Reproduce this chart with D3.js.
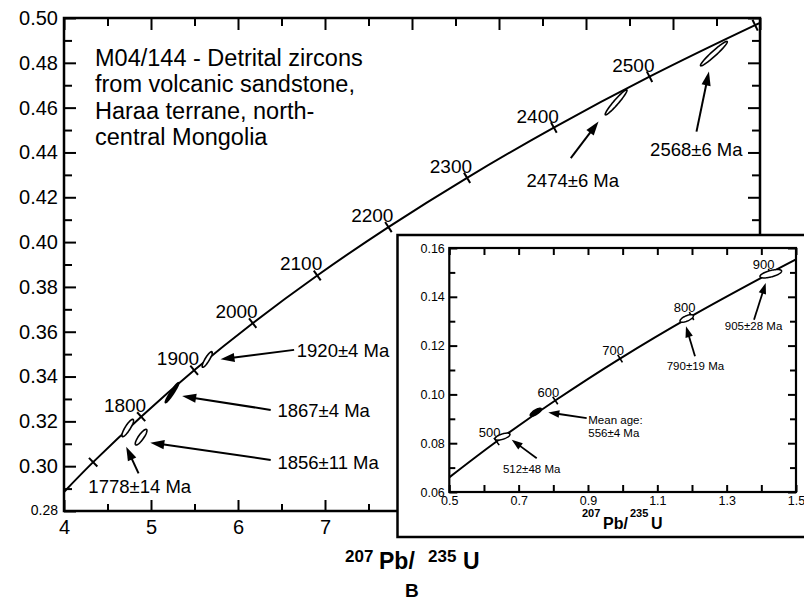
<!DOCTYPE html>
<html>
<head>
<meta charset="utf-8">
<script src="https://cdn.jsdelivr.net/npm/d3@7"></script>
<style>
  html, body { margin: 0; padding: 0; background: #fff; }
  svg { display: block; font-family: "Liberation Sans", Arial, Helvetica, sans-serif; }
</style>
</head>
<body>
<svg id="chart" width="804" height="600"></svg>
<script>
// ---------- Main diagram: concordia, 207Pb/235U (x) vs 206Pb/238U (y) ----------
const concordAges = [1634, 1700, 1800, 1900, 2000, 2100, 2200, 2300, 2400, 2500, 2600, 2604];
const concordX    = [4.000, 4.335, 4.887, 5.496, 6.169, 6.911, 7.729, 8.633, 9.630, 10.730, 11.944, 12.000];
const concordY    = [0.2885, 0.3018, 0.3221, 0.3428, 0.3638, 0.3851, 0.4067, 0.4287, 0.4511, 0.4738, 0.4968, 0.4978];
const concordTickAges  = [1700, 1800, 1900, 2000, 2100, 2200, 2300, 2400, 2500, 2600];
const concordLabelAges = [1800, 1900, 2000, 2100, 2200, 2300, 2400, 2500];

// Analyses (error ellipses): centre, half-extent in x and y, error correlation
const grainLabels = ["2568±6 Ma", "2474±6 Ma", "1920±4 Ma", "1867±4 Ma", "1856±11 Ma", "1778±14 Ma"];
const grainX   = [11.470, 10.346, 5.646, 5.242, 4.886, 4.732];
const grainY   = [0.4841, 0.46237, 0.34763, 0.33281, 0.31295, 0.31705];
const grainSX  = [0.154, 0.125, 0.0577, 0.0773, 0.0669, 0.0669];
const grainSY  = [0.00545, 0.00558, 0.00348, 0.00446, 0.00348, 0.00388];
const grainRho = [0.962, 0.958, 0.87, 0.955, 0.84, 0.86];
const grainFilled = [false, false, false, true, false, false];

// Axis ticks
const xMajorTop    = [4, 5, 6, 7, 8, 9, 10, 11, 12];
const xMinorTop    = [4.5, 5.5, 6.5, 7.5, 8.5, 9.5, 10.5, 11.5];
const xMajorBottom = [4, 5, 6, 7];
const xMinorBottom = [4.5, 5.5, 6.5, 7.5];
const yMajor = [0.28, 0.30, 0.32, 0.34, 0.36, 0.38, 0.40, 0.42, 0.44, 0.46, 0.48, 0.50];
const yMinor = [0.29, 0.31, 0.33, 0.35, 0.37, 0.39, 0.41, 0.43, 0.45, 0.47, 0.49];

// ---------- Inset: younger grains ----------
const insetAges = [412, 500, 600, 700, 800, 900, 930];
const insetX    = [0.500, 0.6363, 0.8056, 0.9925, 1.1987, 1.4263, 1.500];
const insetY    = [0.0660, 0.0807, 0.0975, 0.1147, 0.1321, 0.1498, 0.1553];
const insetTickAges = [500, 600, 700, 800, 900];

const insetGrainX   = [1.4273, 1.1847, 0.7495, 0.6534];
const insetGrainY   = [0.14945, 0.13113, 0.0927, 0.0827];
const insetGrainSX  = [0.0312, 0.0193, 0.0160, 0.0216];
const insetGrainSY  = [0.00172, 0.00156, 0.00160, 0.00144];
const insetGrainRho = [0.62, 0.66, 0.75, 0.62];
const insetGrainFilled = [false, false, true, false];

const insetXMajor = [0.5, 0.7, 0.9, 1.1, 1.3, 1.5];
const insetXMinor = [0.6, 0.8, 1.0, 1.2, 1.4];
const insetYMajor = [0.06, 0.08, 0.10, 0.12, 0.14, 0.16];
const insetYMinor = [0.07, 0.09, 0.11, 0.13, 0.15];

const titleLines = ["M04/144 - Detrital zircons", "from volcanic sandstone,", "Haraa terrane, north-", "central Mongolia"];

// ---------- annotation layout (data coordinates) ----------
const mainNotes = [
  { i: 0, lx: 10.737, ly: 0.4382, tail: [11.270, 0.4493], tip: [11.413, 0.4761] },
  { i: 1, lx: 9.317,  ly: 0.4248, tail: [9.825, 0.4375],  tip: [10.144, 0.4538] },
  { i: 2, lx: 6.676,  ly: 0.3489, tail: [6.645, 0.3519],  tip: [5.799, 0.3477] },
  { i: 3, lx: 6.453,  ly: 0.3221, tail: [6.376, 0.3251],  tip: [5.358, 0.3313] },
  { i: 4, lx: 6.453,  ly: 0.2988, tail: [6.376, 0.3028],  tip: [4.992, 0.3105] },
  { i: 5, lx: 4.280,  ly: 0.2880, tail: [4.857, 0.2968],  tip: [4.715, 0.3087] }
];
const insetNotes = [
  { lines: ["905±28 Ma"], lx: 1.2947, ly: 0.1265, tail: [1.3789, 0.1306], tip: [1.4126, 0.1457] },
  { lines: ["790±19 Ma"], lx: 1.1271, ly: 0.1101, tail: [1.2087, 0.1156], tip: [1.1827, 0.1279] },
  { lines: ["Mean age:", "556±4 Ma"], lx: 0.9009, ly: 0.0878, tail: [0.8963, 0.0903], tip: [0.7856, 0.0926] },
  { lines: ["512±48 Ma"], lx: 0.6546, ly: 0.0678, tail: [0.7521, 0.0738], tip: [0.6800, 0.0814] }
];

const FONT = '"Liberation Sans", Arial, Helvetica, sans-serif';
const svg = d3.select("#chart");
const defs = svg.append("defs");

// ---------- helpers ----------
function ellipsePath(cx, cy, ex, ey, rho, sx, sy) {
  const k = Math.sqrt(1 - rho * rho);
  const pts = d3.range(0, 96).map(j => {
    const t = j / 96 * 2 * Math.PI;
    return [sx(cx + ex * Math.cos(t)), sy(cy + ey * (rho * Math.cos(t) + k * Math.sin(t)))];
  });
  return d3.line().curve(d3.curveLinearClosed)(pts);
}

function drawArrow(g, p0, p1, len, hw, sw) {
  const dx = p1[0] - p0[0], dy = p1[1] - p0[1];
  const L = Math.hypot(dx, dy);
  const ux = dx / L, uy = dy / L, nx = -uy, ny = ux;
  const bx = p1[0] - ux * len, by = p1[1] - uy * len;
  g.append("line")
    .attr("x1", p0[0]).attr("y1", p0[1])
    .attr("x2", bx + ux * 2).attr("y2", by + uy * 2)
    .attr("stroke", "#000").attr("stroke-width", sw);
  g.append("path")
    .attr("d", `M${p1[0]},${p1[1]}L${bx + nx * hw},${by + ny * hw}L${bx - nx * hw},${by - ny * hw}Z`)
    .attr("fill", "#000");
}

function styleAxis(sel, fontSize, sw) {
  sel.select(".domain").remove();
  sel.attr("font-family", FONT).attr("font-size", fontSize);
  sel.selectAll(".tick line").attr("stroke-width", sw);
  sel.selectAll(".tick text").attr("fill", "#000");
}

function concordTicks(g, xs, ys, ages, tickAges, sx, sy, half, sw) {
  tickAges.forEach(a => {
    const i = ages.indexOf(a);
    const p = [sx(xs[i]), sy(ys[i])];
    const pa = [sx(xs[i - 1]), sy(ys[i - 1])];
    const pb = [sx(xs[i + 1]), sy(ys[i + 1])];
    const tx = pb[0] - pa[0], ty = pb[1] - pa[1];
    const L = Math.hypot(tx, ty);
    const nx = -ty / L, ny = tx / L;
    g.append("line")
      .attr("x1", p[0] - nx * half).attr("y1", p[1] - ny * half)
      .attr("x2", p[0] + nx * half).attr("y2", p[1] + ny * half)
      .attr("stroke", "#000").attr("stroke-width", sw);
  });
}

// ================= MAIN PLOT =================
const x = d3.scaleLinear().domain([4, 12]).range([64, 760]);
const y = d3.scaleLinear().domain([0.28, 0.50]).range([511, 18]);
const gMain = svg.append("g");

defs.append("clipPath").attr("id", "clipMain")
  .append("rect").attr("x", 64).attr("y", 18).attr("width", 696).attr("height", 493);

// axes with inward ticks
const fmt2 = d3.format(".2f");
const gl = gMain.append("g").attr("transform", "translate(64,0)")
  .call(d3.axisLeft(y).tickValues(yMajor).tickSize(-12).tickPadding(6).tickFormat(fmt2));
styleAxis(gl, 20, 2);
gl.selectAll(".tick text").filter(d => d === 0.28).attr("font-size", 14).attr("dy", "0.25em");
const glm = gMain.append("g").attr("transform", "translate(64,0)")
  .call(d3.axisLeft(y).tickValues(yMinor).tickSize(-8).tickFormat(""));
styleAxis(glm, 10, 2);

const gr = gMain.append("g").attr("transform", "translate(760,0)")
  .call(d3.axisRight(y).tickValues(yMajor).tickSize(-12).tickFormat(""));
styleAxis(gr, 10, 2);
const grm = gMain.append("g").attr("transform", "translate(760,0)")
  .call(d3.axisRight(y).tickValues(yMinor).tickSize(-8).tickFormat(""));
styleAxis(grm, 10, 2);

const gt = gMain.append("g").attr("transform", "translate(0,18)")
  .call(d3.axisTop(x).tickValues(xMajorTop).tickSize(-12).tickFormat(""));
styleAxis(gt, 10, 2);
const gtm = gMain.append("g").attr("transform", "translate(0,18)")
  .call(d3.axisTop(x).tickValues(xMinorTop).tickSize(-8).tickFormat(""));
styleAxis(gtm, 10, 2);

const gb = gMain.append("g").attr("transform", "translate(0,511)")
  .call(d3.axisBottom(x).tickValues(xMajorBottom).tickSize(-11).tickPadding(9).tickFormat(d3.format("d")));
styleAxis(gb, 20, 2);
const gbm = gMain.append("g").attr("transform", "translate(0,511)")
  .call(d3.axisBottom(x).tickValues(xMinorBottom).tickSize(-7).tickFormat(""));
styleAxis(gbm, 10, 2);

// frame
gMain.append("rect").attr("x", 64).attr("y", 18).attr("width", 696).attr("height", 493)
  .attr("fill", "none").attr("stroke", "#000").attr("stroke-width", 2.5);

// concordia curve
const gCurve = gMain.append("g").attr("clip-path", "url(#clipMain)");
gCurve.append("path")
  .datum(d3.range(concordAges.length))
  .attr("d", d3.line().x(i => x(concordX[i])).y(i => y(concordY[i])).curve(d3.curveCatmullRom.alpha(0.5)))
  .attr("fill", "none").attr("stroke", "#000").attr("stroke-width", 2);
concordTicks(gCurve, concordX, concordY, concordAges, concordTickAges, x, y, 6, 2);

// age labels on concordia
gMain.append("g").selectAll("text").data(concordLabelAges).join("text")
  .attr("x", a => x(concordX[concordAges.indexOf(a)]) + 5)
  .attr("y", a => y(concordY[concordAges.indexOf(a)]) - 5)
  .attr("text-anchor", "end").attr("font-size", 19).attr("fill", "#000")
  .text(a => a);

// error ellipses
grainLabels.forEach((lab, i) => {
  gMain.append("path")
    .attr("d", ellipsePath(grainX[i], grainY[i], grainSX[i], grainSY[i], grainRho[i], x, y))
    .attr("fill", grainFilled[i] ? "#000" : "#fff")
    .attr("stroke", "#000").attr("stroke-width", 1.6);
});

// arrows + age labels
mainNotes.forEach(n => {
  drawArrow(gMain, [x(n.tail[0]), y(n.tail[1])], [x(n.tip[0]), y(n.tip[1])], 14, 4.6, 2);
  gMain.append("text").attr("x", x(n.lx)).attr("y", y(n.ly))
    .attr("font-size", 18.5).attr("fill", "#000").text(grainLabels[n.i]);
});

// sample description
const tt = gMain.append("text").attr("x", 95).attr("y", 66).attr("font-size", 23.5).attr("fill", "#000");
titleLines.forEach((s, i) => {
  tt.append("tspan").attr("x", 95).attr("dy", i === 0 ? 0 : 26.3).text(s);
});

// x-axis title
const xt = svg.append("text").attr("font-weight", "bold").attr("fill", "#000");
xt.append("tspan").attr("x", 345).attr("y", 562).attr("font-size", 17).text("207");
xt.append("tspan").attr("x", 379).attr("y", 569).attr("font-size", 23).text("Pb/");
xt.append("tspan").attr("x", 428).attr("y", 562).attr("font-size", 17).text("235");
xt.append("tspan").attr("x", 463).attr("y", 569).attr("font-size", 23).text("U");

svg.append("text").attr("x", 405).attr("y", 597).attr("font-size", 19)
  .attr("font-weight", "bold").attr("fill", "#000").text("B");

// ================= INSET =================
const gIn = svg.append("g");
gIn.append("rect").attr("x", 397.5).attr("y", 235).attr("width", 420).attr("height", 302)
  .attr("fill", "#fff").attr("stroke", "#000").attr("stroke-width", 2.5);

const xi = d3.scaleLinear().domain([0.5, 1.5]).range([449.3, 796]);
const yi = d3.scaleLinear().domain([0.06, 0.16]).range([492, 248]);

defs.append("clipPath").attr("id", "clipInset")
  .append("rect").attr("x", 449.3).attr("y", 248).attr("width", 346.7).attr("height", 244);

const il = gIn.append("g").attr("transform", "translate(449.3,0)")
  .call(d3.axisLeft(yi).tickValues(insetYMajor).tickSize(-8).tickPadding(4.5).tickFormat(fmt2));
styleAxis(il, 12.5, 2);
const ilm = gIn.append("g").attr("transform", "translate(449.3,0)")
  .call(d3.axisLeft(yi).tickValues(insetYMinor).tickSize(-6).tickFormat(""));
styleAxis(ilm, 10, 2);
const ir = gIn.append("g").attr("transform", "translate(796,0)")
  .call(d3.axisRight(yi).tickValues(insetYMajor).tickSize(-8).tickFormat(""));
styleAxis(ir, 10, 2);
const irm = gIn.append("g").attr("transform", "translate(796,0)")
  .call(d3.axisRight(yi).tickValues(insetYMinor).tickSize(-6).tickFormat(""));
styleAxis(irm, 10, 2);
const ib = gIn.append("g").attr("transform", "translate(0,492)")
  .call(d3.axisBottom(xi).tickValues(insetXMajor).tickSize(-7).tickPadding(4).tickFormat(d3.format(".1f")));
styleAxis(ib, 12.5, 2);
const ibm = gIn.append("g").attr("transform", "translate(0,492)")
  .call(d3.axisBottom(xi).tickValues(insetXMinor).tickSize(-7).tickFormat(""));
styleAxis(ibm, 10, 2);
const itp = gIn.append("g").attr("transform", "translate(0,248)")
  .call(d3.axisTop(xi).tickValues(insetXMajor.concat(insetXMinor)).tickSize(-7).tickFormat(""));
styleAxis(itp, 10, 2);

gIn.append("rect").attr("x", 449.3).attr("y", 248).attr("width", 346.7).attr("height", 244)
  .attr("fill", "none").attr("stroke", "#000").attr("stroke-width", 2.2);

const gInCurve = gIn.append("g").attr("clip-path", "url(#clipInset)");
gInCurve.append("path")
  .datum(d3.range(insetAges.length))
  .attr("d", d3.line().x(i => xi(insetX[i])).y(i => yi(insetY[i])).curve(d3.curveCatmullRom.alpha(0.5)))
  .attr("fill", "none").attr("stroke", "#000").attr("stroke-width", 2);
concordTicks(gInCurve, insetX, insetY, insetAges, insetTickAges, xi, yi, 4.5, 1.6);

gIn.append("g").selectAll("text").data(insetTickAges).join("text")
  .attr("x", a => xi(insetX[insetAges.indexOf(a)]) + 4)
  .attr("y", a => yi(insetY[insetAges.indexOf(a)]) - 4)
  .attr("text-anchor", "end").attr("font-size", 13).attr("fill", "#000")
  .text(a => a);

insetGrainX.forEach((cx, i) => {
  gIn.append("path")
    .attr("d", ellipsePath(cx, insetGrainY[i], insetGrainSX[i], insetGrainSY[i], insetGrainRho[i], xi, yi))
    .attr("fill", insetGrainFilled[i] ? "#000" : "#fff")
    .attr("stroke", "#000").attr("stroke-width", 1.5);
});

insetNotes.forEach(n => {
  drawArrow(gIn, [xi(n.tail[0]), yi(n.tail[1])], [xi(n.tip[0]), yi(n.tip[1])], 11, 3.8, 1.8);
  const t = gIn.append("text").attr("x", xi(n.lx)).attr("y", yi(n.ly))
    .attr("font-size", 11.5).attr("fill", "#000");
  n.lines.forEach((s, k) => t.append("tspan").attr("x", xi(n.lx)).attr("dy", k === 0 ? 0 : 12.8).text(s));
});

const it = gIn.append("text").attr("font-weight", "bold").attr("fill", "#000");
it.append("tspan").attr("x", 582).attr("y", 517).attr("font-size", 11).text("207");
it.append("tspan").attr("x", 603).attr("y", 529).attr("font-size", 16).text("Pb/");
it.append("tspan").attr("x", 630).attr("y", 517).attr("font-size", 11).text("235");
it.append("tspan").attr("x", 651).attr("y", 529).attr("font-size", 16).text("U");
</script>
</body>
</html>
